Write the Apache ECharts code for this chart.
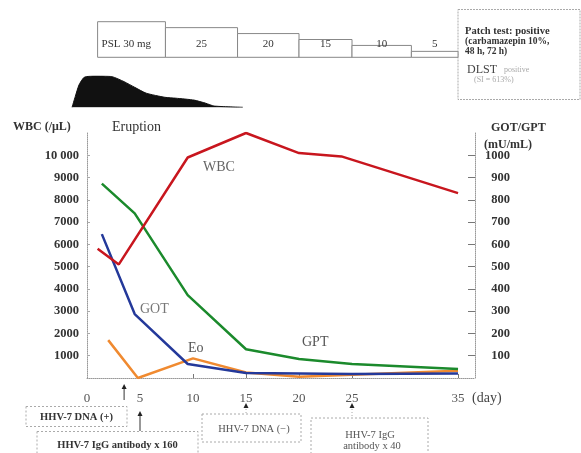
<!DOCTYPE html>
<html><head><meta charset="utf-8">
<script src="https://cdn.jsdelivr.net/npm/echarts@6/dist/echarts.min.js"></script>
<style>html,body{margin:0;padding:0;background:#fff}#c{width:581px;height:453px}</style>
</head><body><div id="c"></div>
<script>
// ---- data ----
const dayTicks = [0, 5, 10, 15, 20, 25, 35];
const dayTickMarks = [10, 15, 20, 25, 35];
const wbcTicks = [1000, 2000, 3000, 4000, 5000, 6000, 7000, 8000, 9000, 10000];
const gotGptTicks = [100, 200, 300, 400, 500, 600, 700, 800, 900, 1000];
// [day, value]
const wbc = [[1, 5800], [3, 5100], [9.5, 9900], [15, 11000], [20, 10100], [24, 9950], [35, 8300]];
const eo = [[2, 1700], [4.8, 0], [10, 880], [15, 250], [20, 60], [25, 150], [35, 320]];
const gpt = [[1.4, 873], [4.5, 739], [9.5, 372], [15, 129], [20, 85], [25, 63], [35, 40]];
const got = [[1.4, 646], [4.5, 287], [9.5, 63], [15, 22], [25, 18], [35, 20]];
// eruption severity (relative, 0-10)
const eruption = [[-1.4, 0], [-1.1, 3.4], [-0.75, 7.1], [-0.25, 9.6], [0.7, 10], [2.35, 9.8], [3.5, 8.2],
  [4.5, 6.4], [5.6, 4.5], [7.35, 3.2], [8.4, 2.9], [10.1, 2.3], [11.2, 1.3], [12, 0.4], [14.7, 0]];
// PSL dose steps: [start day, end day, mg]
const psl = [[1, 7.4, 30], [7.4, 14.2, 25], [14.2, 20, 20], [20, 25, 15], [25, 30.6, 10], [30.6, 35, 5]];
const pslLabels = ['PSL 30 mg', '25', '20', '15', '10', '5'];
// annotation days
const eventDays = [3.5, 5, 15, 25];

const SERIF = '"Liberation Serif", "DejaVu Serif", serif';
const XMAX = 36.6;
const chart = echarts.init(document.getElementById('c'), null, {renderer: 'canvas'});

const axisLineGray = {show: true, lineStyle: {color: '#999', width: 1, type: 'dotted'}};

chart.setOption({
  animation: false,
  backgroundColor: '#fff',
  grid: [
    {left: 87, right: 106, top: 133, bottom: 75},
    {left: 71, right: 106, top: 76, height: 31.3},
    {left: 87, right: 106, top: 21.7, height: 35.6}
  ],
  xAxis: [
    {type: 'value', gridIndex: 0, min: 0, max: XMAX,
      axisLine: axisLineGray, splitLine: {show: false},
      axisTick: {show: true, inside: true, length: 4, customValues: dayTickMarks, lineStyle: {color: '#777'}},
      axisLabel: {customValues: dayTicks, margin: 14, fontFamily: SERIF, fontSize: 13, color: '#555'}},
    {type: 'value', gridIndex: 1, min: -1.5, max: XMAX, show: false},
    {type: 'value', gridIndex: 2, min: 0, max: XMAX, show: false}
  ],
  yAxis: [
    {type: 'value', gridIndex: 0, min: 0, max: 11000,
      axisLine: axisLineGray, splitLine: {show: false},
      axisTick: {show: true, inside: true, length: 3, customValues: wbcTicks, lineStyle: {color: '#aaa'}},
      axisLabel: {customValues: wbcTicks, margin: 8, fontFamily: SERIF, fontWeight: 'bold', fontSize: 12.5, color: '#333',
        formatter: v => v >= 10000 ? '10 000' : String(v)}},
    {type: 'value', gridIndex: 0, min: 0, max: 1100, position: 'right',
      axisLine: {show: true, lineStyle: {color: '#999', width: 1, type: 'dotted'}}, splitLine: {show: false},
      axisTick: {show: true, inside: true, length: 7, customValues: gotGptTicks, lineStyle: {color: '#777'}},
      axisLabel: {customValues: gotGptTicks, margin: 35, align: 'right', fontFamily: SERIF, fontWeight: 'bold', fontSize: 12.5, color: '#333',
        formatter: v => String(v)}},
    {type: 'value', gridIndex: 1, min: 0, max: 10, show: false},
    {type: 'value', gridIndex: 2, min: 0, max: 30, show: false}
  ],
  series: [
    {name: 'Eruption', type: 'line', xAxisIndex: 1, yAxisIndex: 2, data: eruption, symbol: 'none', smooth: 0.2,
      lineStyle: {color: '#111', width: 1}, areaStyle: {color: '#111', opacity: 1}},
    {name: 'PSL', type: 'custom', xAxisIndex: 2, yAxisIndex: 3, data: psl, encode: {x: [0, 1], y: 2},
      renderItem: (params, api) => {
        const s = api.coord([api.value(0), 0]);
        const e = api.coord([api.value(1), api.value(2)]);
        const i = params.dataIndex;
        return {type: 'group', children: [
          {type: 'rect', shape: {x: s[0], y: e[1], width: e[0] - s[0], height: s[1] - e[1]},
            style: {fill: '#fff', stroke: '#888', lineWidth: 1}},
          {type: 'text', z2: 10, style: {text: pslLabels[i], x: i === 0 ? s[0] + 4 : (s[0] + e[0]) / 2, y: 44,
            align: i === 0 ? 'left' : 'center', verticalAlign: 'middle', font: '11px ' + SERIF, fill: '#333'}}
        ]};
      }},
    {name: 'Eo', type: 'line', xAxisIndex: 0, yAxisIndex: 0, data: eo, symbol: 'none',
      lineStyle: {color: '#f08a30', width: 2.5}},
    {name: 'GOT', type: 'line', xAxisIndex: 0, yAxisIndex: 1, data: got, symbol: 'none',
      lineStyle: {color: '#24399a', width: 2.5}},
    {name: 'GPT', type: 'line', xAxisIndex: 0, yAxisIndex: 1, data: gpt, symbol: 'none',
      lineStyle: {color: '#1b8a2c', width: 2.5}},
    {name: 'WBC', type: 'line', xAxisIndex: 0, yAxisIndex: 0, data: wbc, symbol: 'none',
      lineStyle: {color: '#c8161e', width: 2.5}}
  ]
});

// ---- annotations ----
function txt(text, x, y, font, fill, align) {
  return {type: 'text', style: {text, x, y, font, fill: fill || '#333', align: align || 'left', verticalAlign: 'middle'}};
}
const dashedBox = (x, y, w, h, dash) => ({type: 'rect', shape: {x, y, width: w, height: h},
  style: {fill: 'none', stroke: '#aaa', lineWidth: 1, lineDash: dash || [2, 2]}});

const xp = d => chart.convertToPixel({xAxisIndex: 0}, d);
function arrow(x, yTop, yBot, dotted) {
  return [
    {type: 'line', shape: {x1: x, y1: yTop + 3, x2: x, y2: yBot},
      style: {stroke: dotted ? '#aaa' : '#333', lineWidth: 1, lineDash: dotted ? [1, 2] : null}},
    {type: 'polygon', shape: {points: [[x, yTop], [x - 2.5, yTop + 5], [x + 2.5, yTop + 5]]}, style: {fill: '#222'}}
  ];
}

const g = [
  // axis titles
  txt('WBC (/μL)', 13, 127, 'bold 12px ' + SERIF, '#333'),
  txt('Eruption', 112, 127, '14px ' + SERIF, '#333'),
  txt('GOT/GPT', 491, 128, 'bold 12px ' + SERIF, '#333'),
  txt('(mU/mL)', 484, 145, 'bold 12px ' + SERIF, '#333'),
  txt('(day)', 472, 398, '14px ' + SERIF, '#444'),
  // series labels
  txt('WBC', 203, 167, '14px ' + SERIF, '#666'),
  txt('GOT', 140, 309, '14px ' + SERIF, '#777'),
  txt('Eo', 188, 348, '14px ' + SERIF, '#555'),
  txt('GPT', 302, 342, '14px ' + SERIF, '#555'),
  // patch test box
  dashedBox(458, 9.5, 122, 90, [2, 1]),
  txt('Patch test: positive', 465, 31, 'bold 10.5px ' + SERIF, '#333'),
  txt('(carbamazepin 10%,', 465, 42, 'bold 9.5px ' + SERIF, '#333'),
  txt('48 h, 72 h)', 465, 52, 'bold 9.5px ' + SERIF, '#333'),
  txt('DLST', 467, 70, '12px ' + SERIF, '#444'),
  txt('positive', 504, 70, '8px ' + SERIF, '#aaa'),
  txt('(SI = 613%)', 474, 80, '8px ' + SERIF, '#aaa'),
  // bottom boxes
  dashedBox(26, 406.5, 101, 20),
  txt('HHV-7 DNA (+)', 76.5, 417, 'bold 10.5px ' + SERIF, '#333', 'center'),
  dashedBox(37, 431.5, 161, 30),
  txt('HHV-7 IgG antibody x 160', 117.5, 445, 'bold 10.5px ' + SERIF, '#333', 'center'),
  dashedBox(202, 414, 99, 28),
  txt('HHV-7 DNA (−)', 254, 429, '10.5px ' + SERIF, '#555', 'center'),
  dashedBox(311, 418, 117, 45),
  txt('HHV-7 IgG', 370, 435, '10.5px ' + SERIF, '#555', 'center'),
  txt('antibody x 40', 372, 446, '10.5px ' + SERIF, '#555', 'center')
];
g.push(...arrow(xp(eventDays[0]), 384, 400, false));
g.push(...arrow(xp(eventDays[1]), 411, 431, false));
g.push(...arrow(xp(eventDays[2]), 403, 414, true));
g.push(...arrow(xp(eventDays[3]), 403, 418, true));

chart.setOption({graphic: {elements: g}});
</script>
</body></html>
